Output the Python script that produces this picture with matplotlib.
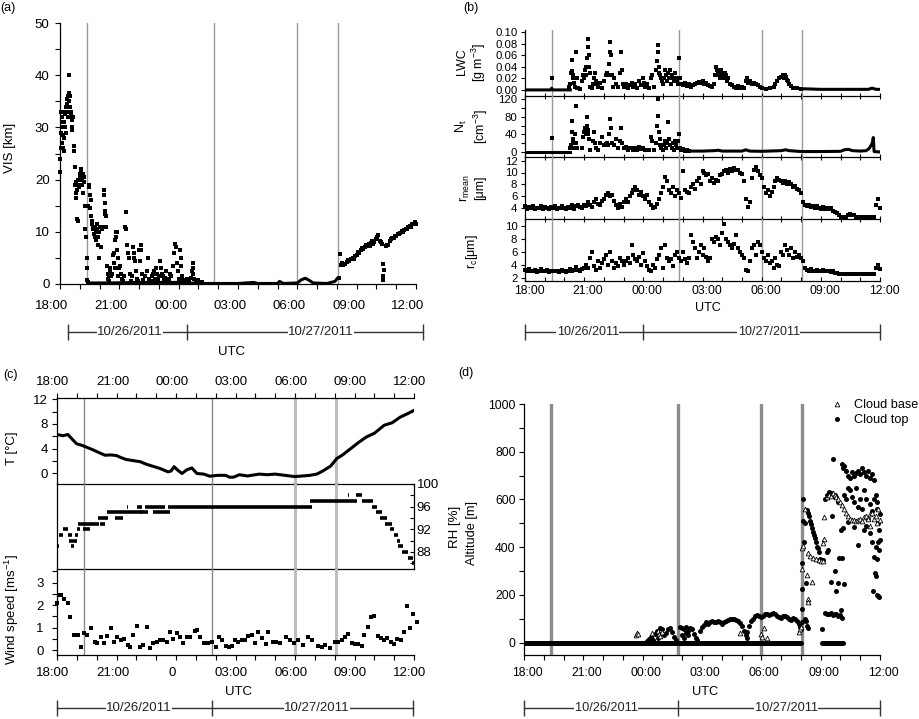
import numpy as np
import matplotlib
matplotlib.use("Agg")
import matplotlib.pyplot as plt
from matplotlib.ticker import MultipleLocator, FixedLocator, FixedFormatter
from matplotlib.transforms import ScaledTranslation
from matplotlib.lines import Line2D

plt.rcParams["font.family"] = ["Liberation Sans", "DejaVu Sans"]
plt.rcParams["mathtext.fontset"] = "custom"
plt.rcParams["mathtext.rm"] = "Liberation Sans"
plt.rcParams["mathtext.it"] = "Liberation Sans:italic"
plt.rcParams["axes.linewidth"] = 0.9

W, H = 919, 719

# time axis: hours after 18:00 UTC on 10/26/2011
HOUR_TICKS = [0, 3, 6, 9, 12, 15, 18]
HOUR_LABELS = ["18:00", "21:00", "00:00", "03:00", "06:00", "09:00", "12:00"]
HOUR_LABELS_C = ["18:00", "21:00", "0", "03:00", "06:00", "09:00", "12:00"]
EVENT_T = [1.35, 7.8, 12.0, 14.07]

# ---------------- (a) visibility ----------------
vis_t = [0.00, 0.02, 0.03, 0.05, 0.07, 0.08, 0.10, 0.12, 0.13, 0.15, 0.17, 0.18, 0.20, 0.22,
         0.23, 0.25, 0.27, 0.28, 0.30, 0.32, 0.35, 0.37, 0.38, 0.40, 0.42, 0.45, 0.47, 0.48,
         0.50, 0.52, 0.53, 0.55, 0.57, 0.58, 0.60, 0.62, 0.63, 0.65, 0.70, 0.72, 0.75, 0.77,
         0.80, 0.82, 0.83, 0.85, 0.87, 0.90, 0.93, 0.95, 0.97, 1.00, 1.03, 1.05, 1.08, 1.10,
         1.12, 1.15, 1.18, 1.20, 1.22, 1.25, 1.28, 1.32, 1.35, 1.37, 1.38, 1.40, 1.42, 1.45,
         1.47, 1.50, 1.52, 1.55, 1.57, 1.60, 1.62, 1.65, 1.67, 1.70, 1.72, 1.75, 1.77, 1.80,
         1.82, 1.85, 1.87, 1.90, 1.92, 1.95, 1.97, 2.00, 2.05, 2.10, 2.15, 2.20, 2.22, 2.25,
         2.27, 2.30, 2.32, 2.35, 2.40, 2.42, 2.45, 2.47, 2.50, 2.52, 2.55, 2.60, 2.65, 2.70,
         2.72, 2.75, 2.78, 2.80, 2.82, 2.85, 2.88, 2.90, 2.93, 2.95, 3.00, 3.05, 3.10, 3.15,
         3.20, 3.25, 3.30, 3.32, 3.35, 3.40, 3.45, 3.50, 3.55, 3.60, 3.65, 3.70, 3.72, 3.75,
         3.80, 3.85, 3.90, 3.95, 4.00, 4.05, 4.10, 4.12, 4.15, 4.20, 4.30, 4.40, 4.45, 4.50,
         4.60, 4.65, 4.70, 4.75, 4.80, 4.85, 4.90, 4.95, 5.00, 5.05, 5.10, 5.15, 5.20, 5.25,
         5.30, 5.35, 5.40, 5.50, 5.55, 5.60, 5.70, 5.75, 5.80, 5.85, 5.90, 5.95, 6.00, 6.05,
         6.10, 6.12, 6.15, 6.20, 6.30, 6.40, 6.50, 6.60, 6.65, 6.70, 6.72, 6.75, 6.80, 6.90,
         7.00, 7.20,
         14.10, 14.15, 14.20, 14.25, 14.30, 14.40, 14.50, 14.55, 14.60, 14.70, 14.80, 14.85,
         14.90, 15.00, 15.05, 15.10, 15.20, 15.25, 15.30, 15.40, 15.45, 15.50, 15.60, 15.65,
         15.70, 15.80, 15.85, 15.90, 16.00, 16.05, 16.10, 16.20, 16.25, 16.30, 16.32, 16.33,
         16.35, 16.40, 16.50, 16.55, 16.60, 16.70, 16.75, 16.80, 16.90, 16.95, 17.00, 17.10,
         17.15, 17.20, 17.30, 17.35, 17.40, 17.50, 17.55, 17.60, 17.70, 17.75, 17.80, 17.90,
         17.95, 18.00]
vis_km = [24, 21.5, 26, 33, 29, 31, 27, 32, 30, 28.5, 26, 25.5, 28, 31,
          33, 30, 32.5, 34, 29, 33, 34.5, 35.5, 32, 36, 34, 40, 36.5, 35,
          33, 36, 34, 32.5, 33, 32, 31.5, 30, 29.5, 32, 26.5, 25.5, 22.5, 19,
          19.5, 17.5, 16.5, 18, 12.5, 12, 20, 19, 18.5, 21, 20.5, 22, 21.5, 20,
          19, 21, 17.5, 20.5, 19.5, 15, 10.5, 9, 5, 3, 0.8, 0.3, 15, 18.5,
          19, 17, 14.5, 13, 16, 11.5, 12, 10.5, 11, 9.5, 10.5, 11, 9, 10,
          8.5, 11.5, 10.5, 7.5, 9, 5, 10, 11, 7, 10.5, 11, 18, 17, 15.5,
          14, 13.5, 13, 11, 3.5, 2, 1, 0.5, 1.5, 3, 2.5, 1.5, 2, 5.5,
          6, 4, 3, 8.5, 10, 9, 6.5, 10, 5, 1.5, 3, 3.5, 2, 1,
          0.5, 1.5, 11, 13.7, 10.5, 7.5, 6, 5, 2, 0.5, 1.5, 7, 6, 5,
          4.5, 2.5, 1, 0.5, 6.5, 4.5, 7.5, 6.5, 2, 0.8, 1.5, 2.5, 5, 1,
          0.5, 1.5, 2, 2.5, 1, 3, 2, 0.8, 1.5, 4.5, 3, 2, 1.5, 0.8,
          1.2, 2.5, 0.6, 1, 2, 1.5, 3.5, 6, 7.7, 7, 4, 2.5, 1, 6.5,
          5, 3.5, 1.5, 0.8, 0.5, 1, 0.6, 1.2, 2.5, 4, 3, 2, 1, 0.5,
          0.8, 0.4,
          1.2, 5.7, 3.6, 4.0, 3.7, 3.9, 4.2, 4.6, 4.5, 4.8, 5.0, 4.7,
          5.3, 5.6, 6.2, 6.0, 6.5, 6.9, 6.8, 7.0, 7.4, 7.3, 7.6, 7.2,
          7.9, 8.3, 7.7, 8.0, 8.6, 9.0, 9.4, 8.2, 8.0, 7.7, 0.8, 1.6,
          3.8, 2.6, 7.2, 7.5, 7.4, 8.2, 8.6, 8.8, 8.9, 9.1, 9.2, 9.5,
          9.6, 9.8, 10.1, 10.0, 10.4, 10.6, 10.5, 10.9, 11.2, 11.0, 11.5, 11.4,
          11.8, 11.5]
# near-zero visibility band (drawn as thick trace)
vis_base_t = [1.40, 2.50, 4.00, 6.00, 6.50, 7.00, 8.00, 9.00, 9.80, 10.00, 11.00, 11.10,
              11.30, 12.00, 12.20, 12.40, 12.60, 12.80, 13.50, 13.90, 14.05]
vis_base_km = [0.2, 0.2, 0.3, 0.3, 0.2, 0.1, 0.1, 0.1, 0.3, 0.1, 0.1, 0.5,
               0.1, 0.2, 0.8, 1.1, 0.7, 0.2, 0.1, 0.5, 1.2]

# ---------------- (b) microphysics ----------------
lwc_t = [1.35, 2.25, 2.30, 2.35, 2.38, 2.40, 2.42, 2.45, 2.50, 2.55, 2.60, 2.62, 2.65, 2.70,
         2.80, 2.90, 2.95, 3.00, 3.05, 3.08, 3.10, 3.15, 3.18, 3.20, 3.22, 3.25, 3.28, 3.30,
         3.40, 3.45, 3.50, 3.55, 3.60, 3.65, 3.70, 3.80, 3.90, 4.00, 4.10, 4.15, 4.20, 4.25,
         4.30, 4.33, 4.35, 4.40, 4.45, 4.50, 4.60, 4.70, 4.80, 4.85, 4.90, 4.95, 5.00, 5.10,
         5.20, 5.30, 5.40, 5.50, 5.60, 5.70, 5.80, 5.90, 6.00, 6.05, 6.10, 6.20, 6.30, 6.40,
         6.45, 6.55, 6.65, 6.70, 6.72, 6.75, 6.78, 6.80, 6.85, 6.90, 6.95, 7.00, 7.05, 7.10,
         7.15, 7.20, 7.25, 7.30, 7.35, 7.40, 7.45, 7.50, 7.55, 7.60, 7.65, 7.70, 7.75, 7.80,
         7.85, 7.90, 8.00, 8.10, 8.20, 8.30, 8.40, 8.50, 8.60, 8.70, 8.80, 8.90, 9.00, 9.10,
         9.20, 9.30, 9.40, 9.50, 9.60, 9.65, 9.70, 9.75, 9.80, 9.85, 9.90, 9.95, 10.00, 10.05,
         10.10, 10.15, 10.20, 10.25, 10.30, 10.40, 10.50, 10.60, 10.70, 10.80, 10.90, 11.00, 11.10,
         11.20, 11.25, 11.30, 11.40, 11.50, 11.60, 11.70, 11.80, 11.90, 12.00, 12.20, 12.40,
         12.60, 12.70, 12.80, 12.90, 13.00, 13.10, 13.15, 13.20, 13.25, 13.30, 13.35, 13.40,
         13.50, 13.60, 13.80, 14.00]
lwc = [0.020, 0.005, 0.010, 0.030, 0.033, 0.052, 0.025, 0.020, 0.012, 0.005, 0.065, 0.020, 0.004, 0.003,
       0.002, 0.015, 0.025, 0.020, 0.035, 0.040, 0.025, 0.055, 0.088, 0.075, 0.060, 0.040, 0.030, 0.005,
       0.003, 0.010, 0.020, 0.030, 0.015, 0.010, 0.005, 0.012, 0.003, 0.015, 0.025, 0.030, 0.025, 0.045,
       0.065, 0.083, 0.060, 0.025, 0.005, 0.020, 0.010, 0.005, 0.030, 0.065, 0.035, 0.010, 0.005, 0.010,
       0.004, 0.008, 0.012, 0.005, 0.010, 0.004, 0.015, 0.008, 0.020, 0.012, 0.005, 0.010, 0.004, 0.020,
       0.025, 0.005, 0.035, 0.050, 0.078, 0.065, 0.040, 0.030, 0.025, 0.020, 0.015, 0.010, 0.020, 0.035,
       0.025, 0.015, 0.030, 0.020, 0.035, 0.010, 0.025, 0.020, 0.015, 0.030, 0.020, 0.015, 0.010, 0.055,
       0.020, 0.010, 0.008, 0.012, 0.006, 0.010, 0.005, 0.008, 0.010, 0.012, 0.014, 0.012, 0.015, 0.010,
       0.012, 0.008, 0.006, 0.005, 0.010, 0.025, 0.040, 0.035, 0.030, 0.025, 0.020, 0.035, 0.030, 0.025,
       0.020, 0.030, 0.025, 0.015, 0.020, 0.010, 0.008, 0.005, 0.004, 0.006, 0.003, 0.005, 0.004,
       0.015, 0.020, 0.012, 0.015, 0.010, 0.012, 0.010, 0.008, 0.005, 0.003, 0.002, 0.003,
       0.005, 0.010, 0.015, 0.020, 0.022, 0.025, 0.020, 0.025, 0.022, 0.018, 0.015, 0.010,
       0.006, 0.004, 0.003, 0.002]
# zero-LWC stretches before the fog and after it lifted
lwc_base1_t = [0.0, 1.30, 1.35, 1.40, 2.30]
lwc_base1 = [0.0, 0.0, 0.003, 0.0, 0.0]
lwc_base2_t = [14.1, 15.0, 17.4, 17.6, 17.8, 18.0]
lwc_base2 = [0.002, 0.001, 0.001, 0.003, 0.001, 0.001]

nt_t = [1.35, 2.30, 2.35, 2.38, 2.40, 2.42, 2.45, 2.50, 2.55, 2.58, 2.60, 2.62, 2.90, 2.95,
        3.00, 3.05, 3.08, 3.12, 3.15, 3.18, 3.20, 3.25, 3.30, 3.45, 3.50, 3.55, 3.60, 3.70,
        3.80, 3.90, 4.00, 4.10, 4.15, 4.20, 4.25, 4.30, 4.35, 4.40, 4.50, 4.60, 4.70, 4.80,
        4.85, 4.90, 5.00, 5.10, 5.20, 5.30, 5.40, 5.50, 5.60, 5.70, 5.80, 5.90, 6.00, 6.10,
        6.30, 6.40, 6.45, 6.55, 6.65, 6.70, 6.72, 6.75, 6.78, 6.82, 6.85, 6.90, 7.00, 7.05,
        7.10, 7.15, 7.20, 7.25, 7.30, 7.35, 7.45, 7.50, 7.55, 7.60, 7.65, 7.70, 7.75, 7.80,
        7.85, 7.90, 8.00, 8.10, 8.20, 8.30]
nt = [33, 10, 15, 45, 70, 30, 20, 8, 40, 105, 20, 8, 10, 35,
      45, 55, 40, 60, 80, 50, 40, 30, 5, 25, 45, 20, 10, 5,
      20, 35, 15, 18, 20, 15, 40, 75, 55, 20, 15, 30, 10, 25,
      55, 20, 8, 12, 5, 10, 8, 5, 10, 4, 12, 6, 8, 5,
      4, 35, 25, 5, 20, 60, 120, 82, 45, 30, 15, 10, 5, 15,
      25, 10, 20, 68, 30, 15, 10, 20, 5, 25, 15, 8, 25, 40,
      10, 5, 6, 3, 5, 2]
nt_base1_t = [0.0, 1.30, 1.40, 2.30]
nt_base1 = [0, 0, 0, 0]
nt_base2_t = [7.90, 8.50, 9.00, 9.60, 9.80, 10.00, 11.00, 11.20, 11.40,
              12.00, 13.00, 13.20, 13.40, 14.00, 15.00, 16.00, 16.20, 16.40, 16.60, 17.00,
              17.30, 17.45, 17.55, 17.62, 17.66, 17.70, 18.00]
nt_base2 = [4, 2, 2, 3, 4, 2, 2, 5, 2,
            1.5, 3, 5, 3, 1, 1, 1.5, 5, 6, 3, 2,
            3, 8, 15, 22, 33, 1, 0]

r_time = [0.0, 0.1, 0.2, 0.3, 0.4, 0.5, 0.6, 0.7, 0.8, 0.9, 1.0, 1.1, 1.2, 1.3, 1.4, 1.5,
          1.6, 1.7, 1.8, 1.9, 2.0, 2.1, 2.2, 2.3, 2.4, 2.5, 2.6, 2.7, 2.8, 2.9, 3.0,
          3.1, 3.2, 3.3, 3.4, 3.5, 3.6, 3.7, 3.8, 3.9, 4.0,
          4.1, 4.2, 4.3, 4.4, 4.5, 4.6, 4.7, 4.8, 4.9, 5.0,
          5.1, 5.2, 5.3, 5.4, 5.5, 5.6, 5.7, 5.8, 5.9, 6.0,
          6.1, 6.2, 6.3, 6.4, 6.5, 6.6, 6.7, 6.8, 6.9, 7.0,
          7.1, 7.2, 7.3, 7.4, 7.5, 7.6, 7.7, 7.8, 7.9, 8.0,
          8.1, 8.2, 8.3, 8.4, 8.5, 8.6, 8.7, 8.8, 8.9, 9.0,
          9.1, 9.2, 9.3, 9.4, 9.5, 9.6, 9.7, 9.8, 9.9, 10.0,
          10.1, 10.2, 10.3, 10.4, 10.5, 10.6, 10.7, 10.8, 10.9, 11.0,
          11.1, 11.2, 11.3, 11.4, 11.5, 11.6, 11.7, 11.8, 11.9, 12.0,
          12.1, 12.2, 12.3, 12.4, 12.5, 12.6, 12.7, 12.8, 12.9, 13.0,
          13.1, 13.2, 13.3, 13.4, 13.5, 13.6, 13.7, 13.8, 13.9, 14.0,
          14.1, 14.2, 14.3, 14.4, 14.5, 14.6, 14.7, 14.8, 14.9, 15.0,
          15.1, 15.2, 15.3, 15.4, 15.5, 15.6, 15.7, 15.8, 15.9, 16.0,
          16.1, 16.2, 16.3, 16.4, 16.5, 16.6, 16.7, 16.8, 16.9, 17.0,
          17.1, 17.2, 17.3, 17.4, 17.5, 17.6, 17.7, 17.8, 17.9, 18.0]
r_mean = [4.3, 3.9, 4.2, 4.0, 4.4, 3.8, 4.1, 4.0, 4.3, 3.9, 4.2, 4.1, 3.8, 4.2, 4.0, 4.3,
          3.9, 4.1, 4.0, 4.4, 4.0, 3.8, 4.2, 4.1, 4.5, 3.9, 4.3, 4.6, 4.2, 4.0, 4.5,
          4.4, 5.0, 4.6, 4.2, 5.0, 5.6, 4.8, 4.5, 5.2, 5.6,
          6.3, 6.5, 6.0, 6.2, 5.2, 4.5, 4.0, 4.8, 4.2, 5.0,
          5.5, 5.0, 6.0, 6.5, 7.0, 7.5, 7.0, 6.2, 6.8, 6.0,
          5.5, 6.2, 5.0, 4.5, 4.0, 4.2, 4.8, 5.5, 6.5, 7.5,
          9.3, 8.5, 7.0, 6.5, 7.5, 6.0, 7.0, 6.5, 5.8, 10.2,
          7.0, 6.8, 6.5, 7.5, 8.0, 7.2, 8.5, 9.0, 8.0, 10.3,
          10.0, 9.5, 9.8, 8.5, 9.0, 8.2, 8.8, 8.5, 9.5, 9.8,
          10.2, 10.5, 10.0, 10.6, 10.3, 10.8, 10.4, 10.5, 10.0, 9.8,
          8.5, 5.5, 4.2, 5.0, 9.0, 10.5, 11.0, 10.2, 9.5, 9.0,
          7.5, 6.5, 7.0, 6.0, 6.8, 7.5, 8.5, 9.0, 8.8, 8.5,
          8.2, 8.6, 8.0, 8.4, 8.0, 7.6, 7.8, 7.2, 7.0, 6.5,
          5.0, 4.5, 4.3, 4.6, 4.2, 4.4, 4.0, 4.3, 4.1, 3.9,
          4.2, 3.9, 4.0, 3.8, 4.0, 3.6, 3.4, 3.2, 2.9, 2.6,
          2.6, 2.5, 2.6, 2.8, 3.0, 2.9, 2.8, 2.6, 2.6, 2.5,
          2.5, 2.5, 2.5, 2.5, 2.5, 2.5, 2.5, 4.5, 5.5, 4.0]
r_c = [3.2, 3.0, 3.3, 3.1, 3.0, 3.2, 2.9, 3.1, 3.3, 3.0, 3.1, 3.2, 2.9, 3.0, 3.1, 3.0,
       3.1, 2.9, 3.0, 3.2, 3.0, 2.9, 3.1, 3.3, 3.0, 3.2, 3.6, 3.2, 3.0, 3.4, 3.5,
       4.0, 3.5, 5.0, 6.0, 3.8, 3.2, 4.5, 3.5, 4.2, 4.8,
       5.5, 4.0, 6.0, 4.5, 3.5, 4.2, 3.8, 5.0, 4.5, 4.0,
       4.5, 5.0, 4.2, 7.0, 5.5, 4.8, 4.5, 5.2, 4.0, 5.8,
       4.5, 3.8, 3.2, 3.0, 4.0, 3.5, 4.8, 5.5, 6.5, 3.5,
       7.0, 5.0, 4.5, 4.8, 3.8, 5.5, 6.0, 5.0, 4.5, 6.0,
       4.8, 4.2, 5.0, 8.5, 7.5, 6.5, 5.0, 6.0, 7.0, 5.5,
       6.5, 5.2, 4.5, 5.0, 8.0, 7.5, 8.2, 8.0, 7.0, 8.8,
       10.3, 8.0, 7.5, 7.0, 6.5, 7.2, 8.5, 6.5, 6.0, 5.5,
       5.0, 3.2, 3.0, 4.5, 6.5, 7.0, 5.5, 7.5, 7.0, 6.0,
       5.0, 4.5, 5.5, 4.2, 4.5, 3.5, 5.0, 4.0, 3.8, 6.0,
       5.5, 7.0, 6.2, 5.5, 6.5, 5.0, 6.0, 5.2, 5.5, 5.0,
       4.5, 3.5, 3.2, 3.0, 3.3, 3.1, 3.0, 3.2, 3.1, 3.0,
       3.2, 3.0, 3.1, 3.0, 2.9, 3.0, 2.8, 2.7, 2.5, 2.5,
       2.5, 2.5, 2.5, 2.5, 2.5, 2.5, 2.5, 2.5, 2.5, 2.5,
       2.5, 2.5, 2.5, 2.5, 2.5, 2.5, 2.5, 3.5, 4.0, 3.3]

# ---------------- (c) surface met ----------------
temp_t = [0.0, 0.3, 0.55, 0.75, 0.99, 1.2, 1.38, 1.6, 1.83, 2.1, 2.42, 2.7, 3.0, 3.2,
          3.5, 3.8, 4.2, 4.5, 4.9, 5.2, 5.6, 5.75, 5.9, 6.1, 6.3, 6.55, 6.8, 7.05, 7.4,
          7.7, 8.1, 8.5, 8.7, 8.9, 9.2, 9.6, 10.2, 10.6, 11.0, 11.5, 11.98, 12.4, 12.75,
          13.1, 13.4, 13.8, 14.1, 14.4, 14.8, 15.2, 15.6, 16.0, 16.5, 16.9, 17.3, 17.7, 18.0]
temp_c = [6.3, 6.1, 6.3, 5.6, 4.8, 4.6, 4.4, 4.1, 3.8, 3.4, 2.95, 3.0, 2.9, 2.6,
          2.25, 2.1, 1.9, 1.5, 1.1, 0.8, 0.26, 0.4, 1.1, 0.5, 0.0, 0.6, 0.9, 0.0, -0.1,
          -0.44, -0.3, -0.3, -0.6, -0.6, -0.2, -0.4, -0.1, -0.2, -0.1, -0.3, -0.5, -0.4, -0.3,
          -0.1, 0.4, 1.2, 2.4, 3.0, 4.0, 5.0, 5.9, 6.5, 7.8, 8.2, 9.1, 9.7, 10.2]

# RH: horizontal runs (start, end, RH %)
rh_start = [0.00, 0.04, 0.08, 0.12, 0.30, 0.55, 0.60, 0.70, 0.91, 0.99, 1.08, 1.29, 2.08,
            2.17, 2.54, 2.92, 3.51, 3.60, 4.02, 4.19, 4.45, 4.86, 5.61, 6.18, 12.76, 14.66,
            15.08, 15.37, 15.87, 16.09, 16.29, 16.54, 16.79, 17.00, 17.13, 17.21, 17.38,
            17.71, 17.88]
rh_end = [0.04, 0.08, 0.12, 0.32, 0.57, 0.74, 0.99, 0.88, 1.08, 1.16, 2.10, 1.66, 2.59,
          2.42, 3.60, 3.34, 3.56, 4.27, 4.27, 4.60, 5.45, 5.70, 12.84, 6.22, 15.11, 14.73,
          15.37, 15.95, 16.12, 16.37, 16.62, 16.87, 17.00, 17.21, 17.30, 17.46, 17.71,
          17.97, 18.00]
rh_val = [88, 89, 90, 91, 92, 91, 90, 89, 91, 92, 93, 92, 94,
          93, 95, 94, 96, 95, 96, 95, 96, 95, 96, 95, 97, 98,
          98, 97, 96, 95, 94, 93, 92, 91, 90, 89, 88,
          87, 86]

wind_t = [0.0, 0.1, 0.22, 0.34, 0.54, 0.68, 0.85, 1.04, 1.21, 1.36, 1.53, 1.7, 1.92, 2.04,
          2.2, 2.35, 2.54, 2.71, 2.87, 3.04, 3.21, 3.38, 3.56, 3.68, 3.85, 4.02, 4.19, 4.36,
          4.52, 4.69, 4.86, 5.03, 5.19, 5.36, 5.53, 5.7, 5.87, 6.03, 6.2, 6.34, 6.54, 6.7,
          6.96, 7.04, 7.21, 7.41, 7.6, 7.8, 8.02, 8.19, 8.3, 8.52, 8.66, 8.81, 8.99, 9.14,
          9.31, 9.48, 9.65, 9.82, 9.99, 10.15, 10.32, 10.52, 10.66, 10.91, 11.05, 11.25, 11.53,
          11.75, 11.95, 12.17, 12.42, 12.67, 12.84, 13.18, 13.35, 13.51, 13.77, 14.02, 14.19,
          14.36, 14.52, 14.69, 14.86, 15.03, 15.2, 15.37, 15.5, 15.67, 15.84, 15.99, 16.16,
          16.33, 16.49, 16.66, 16.83, 17.0, 17.16, 17.35, 17.5, 17.67, 17.8, 17.97, 18.17]
wind_ms = [2.1, 2.45, 2.45, 2.25, 2.1, 1.45, 0.67, 0.67, 0.15, 0.74, 0.67, 0.96, 0.37, 0.3,
           0.59, 0.3, 0.62, 0.96, 0.37, 0.59, 0.45, 0.47, 0.22, 0.12, 0.67, 1.08, 0.15, 0.22,
           1.03, 0.07, 0.3, 0.37, 0.45, 0.45, 0.37, 0.82, 0.47, 0.77, 0.59, 0.3, 0.56, 0.56,
           0.86, 0.91, 0.59, 0.3, 0.3, 0.37, 0.12, 0.59, 0.45, 0.18, 0.12, 0.18, 0.45, 0.37,
           0.45, 0.45, 0.62, 0.67, 0.3, 0.79, 0.52, 0.27, 0.82, 0.37, 0.37, 0.3, 0.56,
           0.45, 0.3, 0.45, 0.22, 0.56, 0.45, 0.18, 0.12, 0.22, 0.07, 0.37, 0.37,
           0.45, 0.59, 0.71, 0.33, 0.27, 0.27, 0.2, 0.67, 1.03, 1.48, 1.51, 0.62,
           0.52, 0.45, 0.52, 0.37, 0.27, 0.49, 0.45, 0.82, 1.97, 0.96, 1.59, 1.25]

# ---------------- (d) cloud base / top ----------------
base_zero_t = [0.0, 14.0]
base_zero_alt = [0, 0]
top_zero_t = [15.06, 16.15]
top_zero_alt = [0, 0]

cbase_t = [5.66, 5.70, 5.75, 6.46, 6.80, 6.85, 6.90, 7.00, 10.90, 12.00, 12.05, 12.15, 12.30,
           13.90, 13.95, 14.00, 14.05, 14.07, 14.10, 14.20, 14.29, 14.34, 14.38, 14.55, 14.35,
           14.45, 14.60, 14.75, 14.90, 15.00, 15.10, 15.15, 15.18, 15.12, 15.30, 15.40, 15.50,
           15.60, 15.70, 15.80, 15.90, 16.00, 16.10, 16.20, 16.30, 16.40, 16.50, 16.60, 16.70,
           16.80, 16.90, 17.00, 17.10, 17.20, 17.30, 17.40, 17.50, 17.60, 17.70, 17.80, 17.90,
           18.00, 17.85, 17.50]
cbase_alt = [32, 40, 35, 40, 50, 35, 28, 45, 40, 35, 25, 60, 20,
             45, 55, 65, 395, 310, 405, 560, 284, 184, 170, 256, 375,
             365, 355, 352, 346, 342, 340, 528, 433, 417, 610, 620, 615,
             625, 620, 610, 600, 590, 575, 560, 545, 530, 520, 515, 512,
             510, 515, 520, 510, 525, 530, 520, 540, 545, 520, 530, 560,
             515, 500, 490]

ctop_t = [6.2, 6.3, 6.4, 6.5, 6.6, 6.7, 6.75, 6.8, 6.9, 7.0, 7.1, 7.2, 7.3, 7.4, 7.5, 7.6, 7.7,
          7.9, 8.0, 8.1, 8.2, 8.3, 8.0, 8.1, 8.2, 8.3, 8.4, 8.5, 8.6, 8.7, 8.75,
          8.9, 9.0, 9.1, 9.2, 9.3, 9.4, 9.5, 9.6, 9.7, 9.8, 9.9, 10.0, 10.1, 10.2, 10.3, 10.4,
          10.5, 10.6, 10.7, 10.8, 10.9, 11.0, 11.1, 11.2, 11.25, 11.3, 11.4, 11.5, 11.6, 11.7,
          11.8, 11.9, 12.0, 12.1, 12.2, 12.3, 12.4, 12.5, 12.6, 12.7, 12.8, 12.9, 13.0, 13.1,
          13.2, 13.3, 13.4, 13.5, 13.6, 13.7, 13.8, 13.9, 13.95, 14.0, 14.05,
          14.05, 14.06, 14.08, 14.10, 14.12, 14.15, 14.20, 14.25, 14.30, 14.35, 14.40, 14.45,
          14.50, 14.55, 14.60, 14.65, 14.70, 14.75, 14.80, 14.85, 14.90, 14.25, 14.30, 14.35,
          14.20, 14.95, 15.00, 15.05, 15.10,
          15.05, 15.20, 15.30, 15.40, 15.50, 15.60, 15.70, 15.80, 15.90, 16.00, 16.05, 16.10,
          15.30, 15.35, 15.50, 15.70, 15.75, 15.90, 16.10, 16.20, 15.60, 15.55, 15.95, 16.05,
          15.20, 15.30, 15.40, 15.50, 15.60, 15.70, 15.80, 15.90,
          16.10, 16.15, 16.20, 16.30, 16.40, 16.50, 16.60, 16.70, 16.80, 16.90, 17.00, 17.10,
          17.20, 17.30, 17.40, 17.50, 17.60, 17.70,
          16.20, 16.30, 16.40, 16.50, 16.60, 16.70, 16.80, 16.90, 17.00, 17.10, 17.20, 17.30,
          17.40, 17.50, 17.60, 17.70, 17.80, 17.85,
          16.15, 16.40, 16.70, 16.90, 17.20, 17.30, 17.50, 17.60, 17.70, 17.75, 17.80, 17.65,
          17.85, 17.90, 17.95, 17.90, 17.95, 17.85, 17.80, 18.00, 17.95, 17.90, 18.00, 17.85]
ctop_alt = [5, 15, 25, 10, 35, 50, 40, 20, 60, 55, 30, 40, 55, 60, 45, 25, 10,
            65, 60, 55, 65, 50, 30, 20, 40, 30, 60, 55, 35, 20, 10,
            50, 65, 75, 85, 80, 88, 90, 85, 88, 92, 85, 80, 88, 90, 95, 98,
            100, 97, 95, 90, 82, 70, 50, 30, 20, 45, 70, 90, 100, 110,
            115, 112, 108, 112, 118, 120, 115, 118, 122, 118, 112, 108, 104, 110,
            112, 108, 100, 95, 105, 100, 90, 80, 65, 55, 85,
            140, 225, 335, 510, 600, 420, 500, 250, 555, 545, 530, 510,
            495, 480, 465, 450, 440, 420, 400, 395, 380, 90, 70, 60,
            100, 350, 345, 342, 345,
            58, 125, 120, 118, 122, 115, 118, 120, 110, 115, 135, 105,
            380, 390, 255, 300, 215, 250, 355, 245, 770, 530, 355, 470,
            600, 620, 630, 625, 615, 620, 610, 590,
            750, 730, 740, 720, 700, 690, 715, 700, 710, 720, 705, 730,
            715, 700, 720, 690, 705, 680,
            620, 600, 650, 640, 610, 590, 650, 570, 600, 560, 640, 600,
            520, 580, 550, 600, 620, 590,
            480, 505, 485, 410, 470, 490, 460, 420, 360, 290, 280, 215,
            200, 195, 190, 420, 390, 350, 400, 430, 470, 500, 540, 560]


def px_axes(fig, x0, y0, x1, y1):
    ax = fig.add_axes([x0 / W, 1 - y1 / H, (x1 - x0) / W, (y1 - y0) / H])
    ax.patch.set_alpha(0)
    return ax


def shift_xlabels(fig, ax, dx):
    off = ScaledTranslation(dx / 100.0, 0, fig.dpi_scale_trans)
    for lab in ax.get_xticklabels(which="major"):
        lab.set_transform(lab.get_transform() + off)


def event_lines(ax, color="#9a9a9a", lw=1.0):
    for t in EVENT_T:
        ax.axvline(t, color=color, lw=lw, zorder=1)


def date_bar(fig, x0, x1, y, t0, t1, tdiv, lab1, lab2, size=9.5):
    ax = px_axes(fig, x0, y - 10, x1, y + 10)
    ax.set_xlim(0, 18)
    ax.set_ylim(-1, 1)
    ax.axis("off")
    col = "#333333"
    ax.plot([t0, t1], [0, 0], color=col, lw=1.0, clip_on=False)
    ax.vlines([t0, tdiv, t1], -0.8, 0.8, color=col, lw=1.0, clip_on=False)
    for tx, s in [(lab1, "10/26/2011"), (lab2, "10/27/2011")]:
        ax.text(tx, 0, s, ha="center", va="center", fontsize=size, color="#222222",
                bbox=dict(facecolor="white", edgecolor="none", pad=0.3), clip_on=False)


def hour_xaxis(ax, labels, size, pad, direction="out", length=3.5, labeled=True):
    ax.set_xlim(0, 18)
    ax.xaxis.set_major_locator(FixedLocator(HOUR_TICKS))
    ax.xaxis.set_minor_locator(MultipleLocator(1))
    if labeled:
        ax.xaxis.set_major_formatter(FixedFormatter(labels))
    else:
        ax.set_xticklabels([])
    ax.tick_params(axis="x", which="both", direction=direction, length=length, width=0.8,
                   labelsize=size, pad=pad)


fig = plt.figure(figsize=(W / 100, H / 100), dpi=100)
DOT = dict(ls="none", marker="s", ms=2.2, mew=0, color="k", clip_on=False, zorder=3)

# ===================== (a) =====================
ax = px_axes(fig, 60, 23, 416, 284)
for s in ["top", "right"]:
    ax.spines[s].set_visible(False)
event_lines(ax, "#9a9a9a", 1.0)
ax.plot(vis_base_t, vis_base_km, color="k", lw=2.2, zorder=3, solid_capstyle="butt")
ax.plot(vis_t, vis_km, **DOT)
ax.set_ylim(0, 50)
ax.yaxis.set_major_locator(MultipleLocator(10))
ax.yaxis.set_minor_locator(MultipleLocator(5))
ax.tick_params(axis="y", which="both", direction="out", length=3.5, width=0.8, labelsize=9.5, pad=4)
hour_xaxis(ax, HOUR_LABELS, 9.5, 8)
shift_xlabels(fig, ax, -8)
fig.text(10 / W, 1 - 148 / H, "VIS [km]", rotation=90, ha="center", va="center", fontsize=9.5)
fig.text(231 / W, 1 - 352 / H, "UTC", ha="center", va="center", fontsize=9.5)
fig.text(0 / W, 1 - 8 / H, "(a)", ha="left", va="center", fontsize=9)
date_bar(fig, 60, 416, 332, 0.4, 18.33, 6.41, 3.54, 13.2)

# ===================== (b) =====================
bx0, bx1 = 525, 880
b_rows = [(30, 96), (96, 157), (157, 219), (219, 281)]
b_axes = [px_axes(fig, bx0, r0, bx1, r1) for r0, r1 in b_rows]
for i, axb in enumerate(b_axes):
    axb.spines["top"].set_visible(False)
    axb.spines["right"].set_visible(False)
    axb.spines["bottom"].set_zorder(5)
    event_lines(axb, "#9a9a9a", 1.0)
    last = i == len(b_axes) - 1
    hour_xaxis(axb, HOUR_LABELS, 8.8, 3, direction="in" if last else "inout",
               length=3 if last else 4.5, labeled=last)
    axb.tick_params(axis="y", which="both", direction="out", length=3, width=0.8,
                    labelsize=8.2, pad=2.5)
axl, axn, axm, axr = b_axes
axl.plot(lwc_base1_t, lwc_base1, color="k", lw=2.2, zorder=3)
axl.plot(lwc_base2_t, lwc_base2, color="k", lw=2.2, zorder=3)
axl.plot(lwc_t, lwc, **DOT)
axl.set_ylim(-0.0105, 0.1035)
axl.yaxis.set_major_locator(FixedLocator([0, 0.02, 0.04, 0.06, 0.08, 0.10]))
axl.yaxis.set_major_formatter(FixedFormatter(["0.00", "0.02", "0.04", "0.06", "0.08", "0.10"]))
axn.plot(nt_base1_t, nt_base1, color="k", lw=2.2, zorder=3)
axn.plot(nt_base2_t, nt_base2, color="k", lw=2.2, zorder=3)
axn.plot(nt_t, nt, **DOT)
axn.set_ylim(-11.5, 128)
axn.yaxis.set_major_locator(MultipleLocator(40))
axn.yaxis.set_minor_locator(MultipleLocator(20))
axm.plot(r_time, r_mean, **DOT)
axm.set_ylim(2.2, 12.6)
axm.yaxis.set_major_locator(MultipleLocator(2))
axr.plot(r_time, r_c, **DOT)
axr.set_ylim(1.5, 11.0)
axr.yaxis.set_major_locator(MultipleLocator(2))
shift_xlabels(fig, axr, 4)
lab_kw = dict(rotation=90, ha="center", va="center", fontsize=9, multialignment="center")
fig.text(472 / W, 1 - 62 / H, "LWC\n[g m$^{-3}$]", **lab_kw)
fig.text(472 / W, 1 - 126 / H, "N$_\\mathrm{t}$\n[cm$^{-3}$]", **lab_kw)
fig.text(472 / W, 1 - 188 / H, "r$_\\mathrm{mean}$\n[μm]", **lab_kw)
fig.text(472 / W, 1 - 252 / H, "r$_\\mathrm{c}$[μm]", **lab_kw)
fig.text(708 / W, 1 - 308 / H, "UTC", ha="center", va="center", fontsize=9)
fig.text(463 / W, 1 - 8 / H, "(b)", ha="left", va="center", fontsize=9)
date_bar(fig, bx0, bx1, 332, 0.0, 18.0, 6.0, 3.18, 12.36, size=9)

# ===================== (c) =====================
cx0, cx1 = 57, 414
axt = px_axes(fig, cx0, 398, cx1, 484)
axh = px_axes(fig, cx0, 484, cx1, 569)
axw = px_axes(fig, cx0, 569, cx1, 655)
c_line_style = [("#8a8a8a", 1.0), ("#8a8a8a", 1.0), ("#bdbdbd", 2.2), ("#bdbdbd", 2.2)]
for axc in (axt, axh, axw):
    axc.spines["right"].set_visible(False)
    axc.spines["top"].set_visible(False)
    axc.spines["bottom"].set_zorder(5)
    for t, (col, lw) in zip(EVENT_T, c_line_style):
        axc.axvline(t, color=col, lw=lw, zorder=1)
    axc.set_xlim(0, 18)
axt.spines["top"].set_visible(True)
axh.spines["right"].set_visible(True)

axt.plot(temp_t, temp_c, color="k", lw=2.2, zorder=3)
axt.set_ylim(-1.7, 12.2)
axt.yaxis.set_major_locator(MultipleLocator(4))
axt.yaxis.set_minor_locator(MultipleLocator(2))
axt.tick_params(axis="y", which="both", direction="out", length=3.5, width=0.8, labelsize=9.5, pad=3)
axt.xaxis.tick_top()
hour_xaxis(axt, HOUR_LABELS, 9.5, 4)
axt.tick_params(axis="x", which="both", top=True, bottom=False, labeltop=True, labelbottom=False)
shift_xlabels(fig, axt, -4)

axh.hlines(rh_val, rh_start, rh_end, color="k", lw=2.6, zorder=3)
axh.set_ylim(85, 100)
axh.yaxis.tick_right()
axh.yaxis.set_major_locator(FixedLocator([88, 92, 96, 100]))
axh.yaxis.set_minor_locator(FixedLocator([86, 90, 94, 98]))
axh.tick_params(axis="y", which="both", direction="in", length=3, width=0.8, labelsize=9.5, pad=2,
                left=False, right=True, labelleft=False, labelright=True)
axh.tick_params(axis="x", which="both", bottom=False, labelbottom=False)

axw.plot(wind_t, wind_ms, ls="none", marker="s", ms=2.2, mew=0, color="k", clip_on=False, zorder=3)
axw.set_ylim(-0.22, 3.6)
axw.yaxis.set_major_locator(MultipleLocator(1))
axw.yaxis.set_minor_locator(MultipleLocator(0.5))
axw.tick_params(axis="y", which="both", direction="out", length=3.5, width=0.8, labelsize=9.5, pad=6)
hour_xaxis(axw, HOUR_LABELS_C, 9.5, 5)
shift_xlabels(fig, axw, -4)

fig.text(12 / W, 1 - 448 / H, "T [°C]", rotation=90, ha="center", va="center", fontsize=9.5)
fig.text(12 / W, 1 - 610 / H, "Wind speed [ms$^{-1}$]", rotation=90, ha="center", va="center", fontsize=9.5)
fig.text(455 / W, 1 - 527 / H, "RH [%]", rotation=90, ha="center", va="center", fontsize=9.5)
fig.text(239 / W, 1 - 692 / H, "UTC", ha="center", va="center", fontsize=9.5)
fig.text(3 / W, 1 - 375 / H, "(c)", ha="left", va="center", fontsize=9)
date_bar(fig, cx0, cx1, 708, 0.0, 17.95, 7.8, 4.14, 13.1)

# ===================== (d) =====================
axd = px_axes(fig, 524, 404, 880, 655)
for s in ["top", "right"]:
    axd.spines[s].set_visible(False)
event_lines(axd, "#8c8c8c", 2.4)
axd.plot(base_zero_t, base_zero_alt, color="k", lw=3.6, zorder=3, solid_capstyle="round")
axd.plot(top_zero_t, top_zero_alt, color="k", lw=3.6, zorder=3, solid_capstyle="round")
axd.plot(ctop_t, ctop_alt, ls="none", marker="o", ms=3.6, mew=0, color="k", zorder=3, clip_on=False)
axd.plot(cbase_t, cbase_alt, ls="none", marker="^", ms=3.4, mew=0.6, mfc="white", mec="k",
         zorder=4, clip_on=False)
axd.set_ylim(-52, 1000)
axd.yaxis.set_major_locator(MultipleLocator(200))
axd.yaxis.set_minor_locator(MultipleLocator(100))
axd.tick_params(axis="y", which="both", direction="out", length=3.5, width=0.8, labelsize=8.8, pad=2.5)
hour_xaxis(axd, HOUR_LABELS, 8.8, 5)
shift_xlabels(fig, axd, 3)
handles = [Line2D([], [], ls="none", marker="^", ms=3.4, mew=0.6, mfc="white", mec="k"),
           Line2D([], [], ls="none", marker="o", ms=3.6, mew=0, color="k")]
axd.legend(handles, ["Cloud base", "Cloud top"], loc="upper left",
           bbox_to_anchor=(831 / W, 1 - 399 / H), bbox_transform=fig.transFigure,
           frameon=False, fontsize=9.2, handlelength=1.0, handletextpad=0.8,
           borderpad=0, borderaxespad=0, labelspacing=0.25)
fig.text(472 / W, 1 - 533 / H, "Altitude [m]", rotation=90, ha="center", va="center", fontsize=9.2)
fig.text(705 / W, 1 - 692 / H, "UTC", ha="center", va="center", fontsize=9.2)
fig.text(458 / W, 1 - 373 / H, "(d)", ha="left", va="center", fontsize=9)
date_bar(fig, 524, 880, 708, 0.0, 18.0, 7.8, 4.16, 13.25, size=9.2)

fig.savefig("out.png", dpi=100)
